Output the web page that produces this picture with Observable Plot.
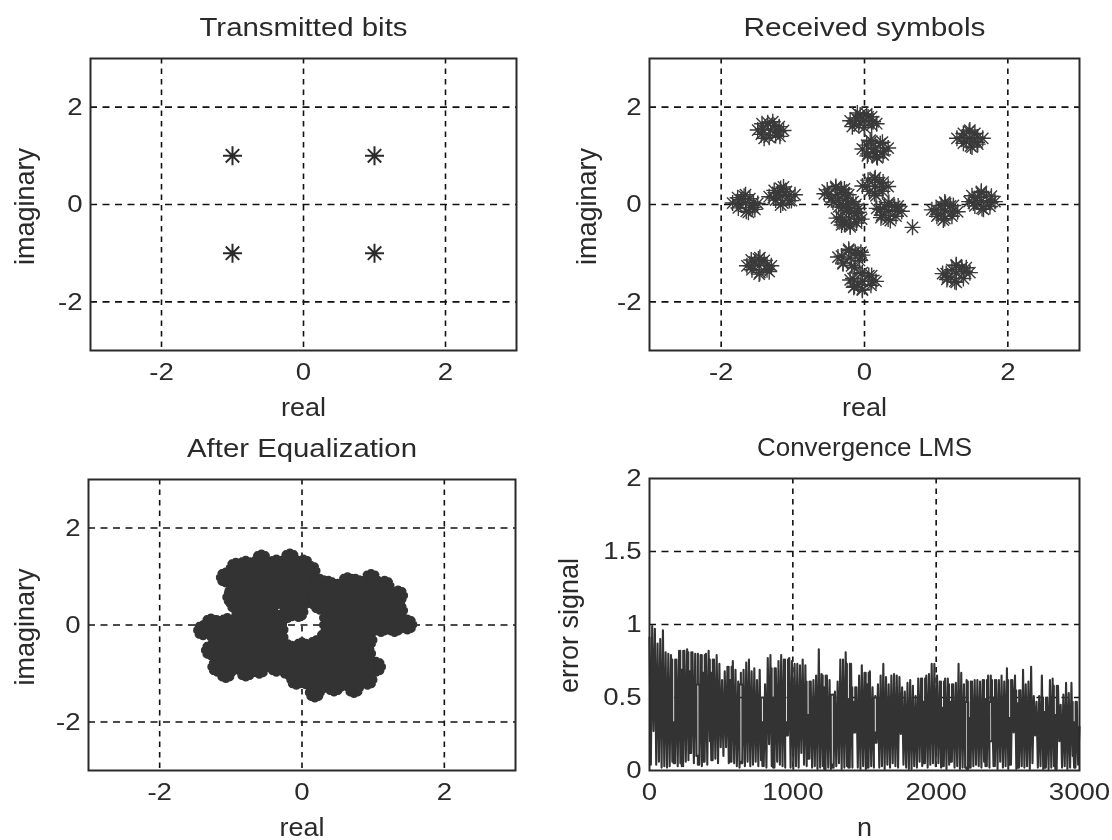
<!DOCTYPE html>
<html>
<head>
<meta charset="utf-8">
<script src="https://cdn.jsdelivr.net/npm/d3@7"></script>
<script src="https://cdn.jsdelivr.net/npm/@observablehq/plot@0.6"></script>
<style>
  html,body{margin:0;padding:0;background:#fff;}
  #page{position:relative;width:1112px;height:840px;overflow:hidden;filter:blur(.55px);}
  #page svg{position:absolute;overflow:visible;background:transparent;}
</style>
</head>
<body>
<div id="page"></div>
<script>
// ---------- data ----------
const iqTicks = [-2, 0, 2];
const nTicks = [0, 1000, 2000, 3000];
const errTicks = [0, 0.5, 1, 1.5, 2];

const transmittedRe = [-1, 1, -1, 1];
const transmittedIm = [1, 1, -1, -1];

const receivedRe = [
  -1.31,-1.42,-1.20,-1.35,-1.26,-1.44,-1.19,-1.33,-1.24,-1.49,-1.13,-1.28,-1.40,-1.18,-1.43,
  -.02,-.14,.10,-.06,.05,-.12,.12,.00,-.08,-.20,.17,.03,-.10,.10,-.17,
  .15,.03,.27,.10,.22,.05,.26,.17,.12,-.03,.33,.18,.08,.25,.04,
  1.47,1.36,1.58,1.46,1.54,1.38,1.57,1.48,1.42,1.29,1.65,1.47,1.50,1.38,1.58,
  -1.66,-1.78,-1.55,-1.68,-1.60,-1.76,-1.56,-1.65,-1.72,-1.84,-1.49,-1.66,-1.62,-1.77,-1.53,
  -1.15,-1.27,-1.04,-1.17,-1.09,-1.24,-1.05,-1.14,-1.21,-1.33,-.97,-1.13,-1.17,-1.26,-1.02,
  -.38,-.50,-.28,-.40,-.32,-.46,-.26,-.36,-.56,-.22,-.40,-.44,-.28,-.52,
  .15,.04,.26,.14,.21,.07,.25,.14,-.03,.33,.15,.16,.05,.26,
  -.24,-.30,-.16,-.22,-.12,-.36,-.08,
  -.21,-.33,-.09,-.22,-.14,-.31,-.11,-.20,-.28,-.39,-.04,-.25,-.20,-.32,-.08,
  .34,.22,.46,.33,.42,.24,.44,.33,.28,.17,.52,.34,.36,.23,.47,
  .67,
  1.12,1.00,1.23,1.13,1.20,1.03,1.22,1.12,1.07,.94,1.30,1.12,1.10,1.01,1.24,
  1.63,1.52,1.76,1.63,1.70,1.54,1.75,1.64,1.58,1.46,1.82,1.63,1.66,1.50,1.77,
  -1.47,-1.58,-1.36,-1.48,-1.40,-1.57,-1.36,-1.46,-1.53,-1.64,-1.30,-1.46,-1.47,-1.58,-1.33,
  -.20,-.32,-.09,-.22,-.13,-.30,-.07,-.18,-.37,-.03,-.22,-.14,-.30,-.05,
  -.03,-.16,.10,-.05,.06,-.14,.09,-.03,-.09,-.20,.16,-.03,-.03,-.15,.10,
  1.28,1.14,1.40,1.28,1.36,1.16,1.38,1.26,1.22,1.09,1.47,1.28,1.28,1.15,1.42
];
const receivedIm = [
  1.53,1.55,1.50,1.68,1.62,1.44,1.60,1.38,1.42,1.53,1.52,1.70,1.36,1.40,1.66,
  1.72,1.66,1.63,1.84,1.80,1.78,1.70,1.58,1.62,1.72,1.66,1.86,1.88,1.80,1.60,
  1.16,1.22,1.10,1.30,1.25,1.04,1.02,.98,1.08,1.14,1.16,.96,1.32,1.28,1.00,
  1.36,1.38,1.38,1.50,1.46,1.26,1.28,1.20,1.30,1.36,1.36,1.53,1.18,1.46,1.24,
  .03,.02,.04,.17,.12,-.07,-.06,-.14,.10,.03,.02,.20,-.16,.14,-.10,
  .18,.14,.20,.33,.27,.09,.08,.03,.25,.16,.20,.36,-.01,.29,.08,
  .20,.21,.24,.34,.30,.12,.13,.08,.22,.20,.37,.05,.32,.30,
  .37,.38,.36,.52,.45,.27,.27,.22,.38,.37,.55,.18,.50,.46,
  .02,-.06,.06,-.08,.00,-.05,-.08,
  -.30,-.26,-.28,-.16,-.18,-.36,-.38,-.42,-.40,-.28,-.30,-.12,-.46,-.42,-.16,
  -.14,-.10,-.12,.00,-.04,-.22,-.24,-.30,-.05,-.08,-.14,.04,-.33,-.27,-.03,
  -.47,
  -.13,-.10,-.15,.02,-.03,-.20,-.24,-.29,-.02,-.11,-.15,.05,-.32,-.24,-.02,
  .08,.03,.04,.24,.17,-.03,-.04,-.08,.15,.06,.06,.27,-.10,.18,.17,
  -1.26,-1.26,-1.25,-1.12,-1.15,-1.34,-1.34,-1.40,-1.18,-1.26,-1.26,-1.09,-1.43,-1.14,-1.38,
  -1.10,-1.06,-1.02,-.95,-.98,-1.20,-1.15,-1.26,-1.08,-1.04,-.92,-1.30,-1.22,-.98,
  -1.58,-1.52,-1.58,-1.42,-1.46,-1.68,-1.66,-1.74,-1.64,-1.55,-1.58,-1.40,-1.76,-1.70,-1.46,
  -1.41,-1.42,-1.38,-1.26,-1.30,-1.50,-1.52,-1.58,-1.34,-1.42,-1.40,-1.24,-1.60,-1.54,-1.30
];

const equalizedRe = [
  -1.07,-.93,-.79,-.57,-.36,-.17,.02,.12,.14,.37,.64,.97,1.16,1.35,1.35,1.48,1.30,1.11,.92,.90,1.04,.92,.73,.45,.18,-.08,-.19,-.36,-.79,-1.07,-1.19,-1.28,-1.39,-1.28,-1.05,-.83,-.93,-.98,
  -.8,-.6,-.4,-.2,0,
  -.9,-.7,-.5,-.3,-.1,.1,.5,.7,.9,1.05,
  -.8,-.6,-.4,-.2,0,.2,.4,.6,.8,1.0,1.2,
  -.85,-.65,-.45,.45,.65,.85,1.05,1.2,
  -1.2,-1.0,-.8,-.6,-.35,.42,.6,.8,1.0,
  -1.2,-1.0,-.8,-.6,-.35,.4,.6,.8,
  -1.2,-1.0,-.8,-.6,-.4,-.2,0,.2,.4,.6,.8,
  -1.1,-.9,-.7,-.5,-.3,-.1,.1,.3,.5,.7,.9,
  0,.2,.4,.6,.8,
  .3,.5,
  -.85,-.9,-.7,-.5,-.3,-.1,.05,.1,-.95,-.85,-.85,-.75,
  .3,.5,.8,1.1,1.2,1.1,1.25,1.1,.9,.7,.5,.3,.25,
  -.2,-.05,.33,0,.2,-.33,-.33,-.33,.38,.38,.3,
  -1.1,-.95,-.7,-.5,-.5,-.7,-.5,-.7,-.9,-1.1,-1.1,-.9,-.7,-.5,-.3,-1,-.6,-.4,
  .55,.7,.85,.55,.7,0,.2,.4,.6,.8,.1,.3,.5,.7,.9,-.1,.1,.3,.55,.75,
  -.2,-.4,-.6,-.8,0,.2,.6,.9,-.6,-.4,-.2,0,1.0,.75,1.0,.8,1.3,
  .2,.25,.3,.22
];
const equalizedIm = [
  .98,1.18,1.22,1.35,1.25,1.37,1.25,1.12,.84,.81,.88,.95,.81,.61,.30,.01,-.04,-.04,-.31,-.59,-.86,-1.13,-1.30,-1.27,-1.39,-1.13,-.93,-.86,-.96,-.99,-.86,-.52,-.11,.03,.04,.16,.44,.57,
  1.0,1.0,1.0,1.0,1.0,
  .75,.75,.75,.75,.75,.75,.75,.75,.75,.75,
  .5,.5,.5,.5,.5,.5,.5,.5,.5,.5,.5,
  .25,.25,.25,.25,.25,.25,.25,.25,
  0,0,0,0,0,0,0,0,0,
  -.25,-.25,-.25,-.25,-.25,-.25,-.25,-.25,
  -.5,-.5,-.5,-.5,-.5,-.5,-.5,-.5,-.5,-.5,-.5,
  -.75,-.75,-.75,-.75,-.75,-.75,-.75,-.75,-.75,-.75,-.75,
  -1,-1,-1,-1,-1,
  -1.2,-1.2,
  .9,1.05,1.1,1.2,1.15,1.2,1.05,.9,.7,.6,.4,.3,
  .65,.6,.75,.6,.4,.3,.15,.1,.1,.1,.15,.55,.42,
  .25,.27,-.28,-.46,-.42,.1,-.1,-.25,.15,0,.45,
  0,-.12,-.1,-.1,.1,.12,-.35,-.37,-.37,-.37,-.62,-.62,-.62,-.62,-.62,-.85,-.9,-.72,
  -.35,-.35,-.15,-.1,-.12,-.62,-.62,-.62,-.62,-.62,-.88,-.88,-.88,-.88,-.88,-.9,-1.15,-1.15,-1.12,-1.1,
  .72,.62,.62,.62,.62,.62,.62,.62,.88,.88,.88,.88,.8,.85,.2,.25,.45,
  .75,.85,.68,.55
];

const errorStep = 18.75; // samples between successive peaks along n
const errorPeaks = [
  .91,.99,.97,.87,.90,.96,.81,.80,.79,.33,
  .76,.82,.69,.82,.83,.68,.81,.80,.80,.79,
  .67,.80,.82,.67,.76,.79,.73,.62,.68,.71,
  .62,.75,.69,.61,.67,.69,.74,.76,.68,.70,
  .62,.69,.50,.59,.77,.79,.50,.70,.75,.79,
  .76,.33,.77,.75,.73,.73,.72,.76,.72,.38,
  .61,.62,.65,.83,.66,.57,.65,.62,.52,.54,
  .61,.76,.76,.81,.49,.73,.47,.57,.65,.72,
  .67,.59,.68,.57,.51,.59,.65,.73,.64,.59,
  .65,.66,.65,.64,.57,.54,.60,.62,.58,.51,
  .63,.63,.47,.65,.66,.73,.73,.65,.61,.43,
  .63,.63,.47,.59,.60,.73,.67,.59,.62,.36,
  .61,.62,.62,.61,.62,.49,.65,.65,.50,.62,
  .62,.65,.61,.70,.36,.62,.65,.46,.55,.69,
  .59,.61,.71,.51,.47,.51,.65,.40,.50,.62,
  .63,.38,.58,.45,.52,.60,.53,.60,.33,.47,.30
];
const errorTroughs = [
  .04,.27,.04,.06,.02,.03,.02,.03,.06,.05,
  .03,.05,.03,.06,.07,.12,.05,.10,.04,.03,
  .06,.04,.20,.07,.08,.05,.16,.10,.16,.05,
  .06,.05,.03,.02,.05,.03,.06,.03,.04,.06,
  .03,.07,.03,.02,.18,.03,.02,.06,.04,.03,
  .02,.24,.02,.01,.03,.02,.12,.04,.03,.08,
  .02,.03,.01,.02,.03,.01,.02,.01,.02,.03,
  .05,.01,.02,.03,.02,.02,.26,.02,.01,.03,
  .01,.02,.03,.02,.19,.02,.03,.01,.04,.02,
  .05,.03,.02,.25,.04,.02,.01,.01,.03,.02,
  .06,.03,.05,.02,.04,.05,.03,.05,.02,.03,
  .01,.04,.06,.02,.03,.01,.02,.03,.01,.02,
  .03,.04,.03,.02,.06,.03,.02,.20,.03,.01,
  .06,.02,.03,.01,.04,.26,.01,.02,.03,.02,
  .03,.01,.05,.24,.02,.03,.01,.02,.01,.02,
  .03,.01,.20,.02,.03,.01,.02,.10,.02,.04
];
// peaks whose stroke is broken in the middle: peak index, upper and lower edge of the break
const errorBreakAt = [18, 34, 42, 68, 84, 118, 127];
const errorBreakHi = [.59, .59, .50, .52, .50, .47, .47];
const errorBreakLo = [.10, .06, .33, .04, .26, .02, .20];

// ---------- tables ----------
const zip = (re, im) => re.map((x, i) => ({x, y: im[i]}));
const errorLine = [];
const sideGap = 10.5; // half width of a narrow notch, in samples
errorPeaks.forEach((p, i) => {
  const n = i * errorStep;
  const b = errorBreakAt.indexOf(i);
  const prev = errorPeaks[i - 1], next = errorPeaks[i + 1];
  const tr = errorTroughs[i];
  if (b >= 0) {
    const hi = errorBreakHi[b], lo = errorBreakLo[b], g = sideGap;
    errorLine.push({n: n - g, e: hi}, {n: n - g, e: lo}, {n, e: lo}, {n, e: Math.min(tr, lo)}, {n, e: lo},
      {n, e: NaN}, {n, e: p}, {n, e: hi}, {n, e: NaN},
      {n, e: lo}, {n: n + g, e: lo}, {n: n + g, e: hi}, {n: n + g, e: lo});
  } else if (prev !== undefined && next !== undefined && p < Math.min(prev, next) - .08) {
    // a dip narrower than one cycle: neighbouring strokes close in on it, the stroke below stays
    const shoulder = Math.min(prev, next);
    errorLine.push({n: n - sideGap, e: shoulder}, {n: n - sideGap, e: p}, {n, e: tr}, {n, e: p}, {n, e: tr}, {n: n + sideGap, e: p}, {n: n + sideGap, e: shoulder}, {n: n + sideGap, e: p});
  } else {
    errorLine.push({n, e: p});
  }
  if (i < errorTroughs.length) errorLine.push({n: n + errorStep / 2, e: tr});
});

// ---------- styling ----------
const INK = "#2a2a2a";
const asterisk = {
  draw(ctx, size) {
    const r = Math.sqrt(size / Math.PI), d = r * Math.SQRT1_2;
    ctx.moveTo(-r, 0); ctx.lineTo(r, 0);
    ctx.moveTo(0, -r); ctx.lineTo(0, r);
    ctx.moveTo(-d, -d); ctx.lineTo(d, d);
    ctx.moveTo(-d, d); ctx.lineTo(d, -d);
  }
};
const FS = 24, TITLE_FS = 25, YLABEL_FS = 27;
const textWidths = {
  "Transmitted bits": 208, "Received symbols": 242, "After Equalization": 230, "Convergence LMS": 215,
  "real": 45, "n": 15, "imaginary": 117, "error signal": 135
};

function panel({left, top, marginLeft, marginRight, marginTop, marginBottom = 70,
                xDomain = [-3, 3], yDomain = [-3, 3], xt = iqTicks, yt = iqTicks,
                gridX = iqTicks, gridY = iqTicks,
                title, xLabel = "real", yLabel = "imaginary", yLabelDx, yLabelDy = 2, marks}) {
  const svg = Plot.plot({
    width: 556, height: 420, marginLeft, marginRight, marginTop, marginBottom,
    x: {domain: xDomain}, y: {domain: yDomain},
    style: {fontFamily: "'Liberation Sans', Arial, sans-serif", background: "transparent"},
    marks: [
      Plot.ruleX(gridX, {stroke: "#111", strokeWidth: 1.6, strokeDasharray: "5.5 5"}),
      Plot.ruleY(gridY, {stroke: "#111", strokeWidth: 1.6, strokeDasharray: "7 5.5"}),
      ...marks,
      Plot.frame({stroke: INK, strokeWidth: 2}),
      Plot.axisX(xt, {tickSize: 0, tickPadding: 12, tickFormat: d => String(d), fontSize: FS, fill: INK, label: null}),
      Plot.axisY(yt, {tickSize: 0, tickPadding: 8, tickFormat: d => String(d), fontSize: FS, fill: INK, label: null}),
      Plot.text([title], {frameAnchor: "top", lineAnchor: "middle", dy: -31, fontSize: TITLE_FS, fill: INK}),
      Plot.text([xLabel], {frameAnchor: "bottom", lineAnchor: "middle", dy: 57, fontSize: TITLE_FS, fill: INK}),
      Plot.text([yLabel], {frameAnchor: "left", textAnchor: "middle", lineAnchor: "middle", rotate: -90, dx: yLabelDx, dy: yLabelDy, fontSize: YLABEL_FS, fill: INK})
    ]
  });
  svg.style.left = left + "px";
  svg.style.top = top + "px";
  document.getElementById("page").appendChild(svg);
  // the reference is stretched sideways: widen each text to its measured length
  svg.querySelectorAll("text").forEach(t => {
    const s = t.textContent, w = textWidths[s];
    const len = w ?? t.getComputedTextLength() * 1.15;
    t.setAttribute("textLength", len);
    t.setAttribute("lengthAdjust", "spacingAndGlyphs");
  });
}

panel({
  left: 0, top: 0, marginLeft: 90, marginRight: 40, marginTop: 58,
  title: "Transmitted bits", yLabelDx: -65,
  marks: [Plot.dot(zip(transmittedRe, transmittedIm), {x: "x", y: "y", symbol: asterisk, r: 9.5, fill: "none", stroke: INK, strokeWidth: 2})]
});
panel({
  left: 556, top: 0, marginLeft: 93, marginRight: 33, marginTop: 58,
  title: "Received symbols", yLabelDx: -62,
  marks: [Plot.dot(zip(receivedRe, receivedIm), {x: "x", y: "y", symbol: asterisk, r: 8, fill: "none", stroke: "#3a3a3a", strokeWidth: 1.4})]
});
panel({
  left: 0, top: 420, marginLeft: 88, marginRight: 41, marginTop: 59,
  title: "After Equalization", yLabelDx: -63,
  marks: [Plot.dot(zip(equalizedRe, equalizedIm), {x: "x", y: "y", symbol: asterisk, r: 6, fill: "none", stroke: "#333", strokeWidth: 8, strokeLinecap: "round"})]
});
panel({
  left: 556, top: 420, marginLeft: 93, marginRight: 33, marginTop: 58,
  xDomain: [0, 3000], yDomain: [0, 2], xt: nTicks, yt: errTicks,
  gridX: [1000, 2000], gridY: [0.5, 1, 1.5],
  title: "Convergence LMS", xLabel: "n", yLabel: "error signal", yLabelDx: -80.5, yLabelDy: 1,
  marks: [Plot.line(errorLine, {x: "n", y: "e", stroke: "#333", strokeWidth: 2.1, curve: "linear"})]
});
</script>
</body>
</html>
